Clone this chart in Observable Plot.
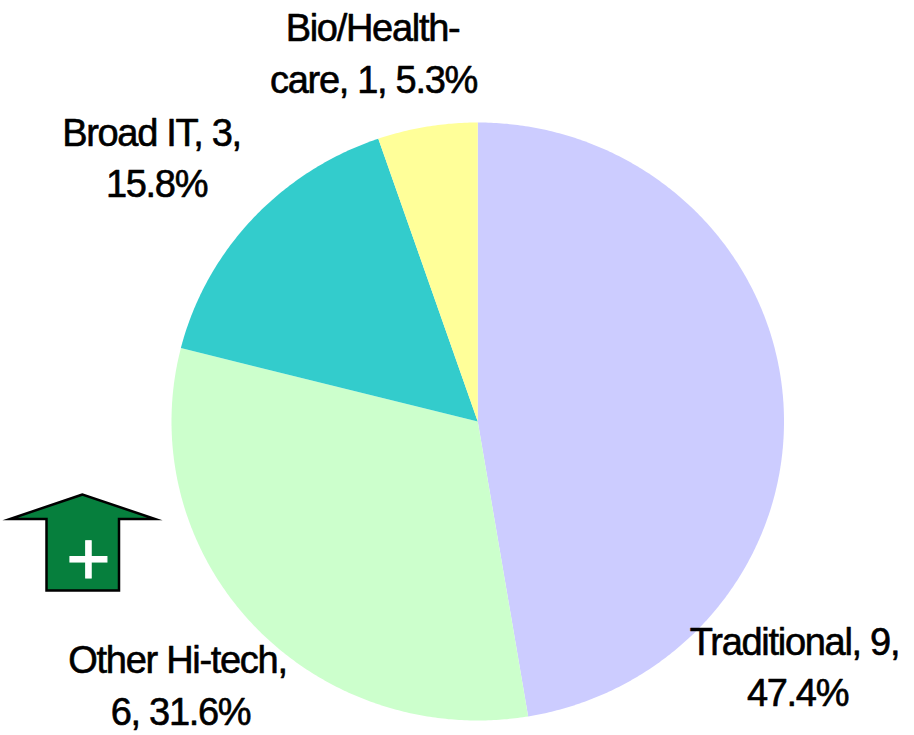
<!DOCTYPE html>
<html><head><meta charset="utf-8">
<style>html,body{margin:0;padding:0;background:#fff}</style>
<script src="https://cdn.jsdelivr.net/npm/d3@7"></script>
<script src="https://cdn.jsdelivr.net/npm/@observablehq/plot@0.6"></script>
</head><body><div id="chart"></div>
<script>
const categories = ["Traditional", "Other Hi-tech", "Broad IT", "Bio/Health-care"];
const counts = [9, 6, 3, 1];
const colors = ["#ccccff", "#ccffcc", "#33cccc", "#ffff99"];
const labelLines = [
  ["Traditional, 9,", "47.4%"],
  ["Other Hi-tech,", "6, 31.6%"],
  ["Broad IT, 3,", "15.8%"],
  ["Bio/Health-", "care, 1, 5.3%"]
];
// layout of each label line: centre x, baseline y in pixels
const labelPlaces = [
  [[794, 654], [797, 705]],
  [[177, 672], [180, 724]],
  [[151, 145], [156, 196]],
  [[372, 40], [373, 92]]
];

const arcs = d3.pie().sort(null).value(d => d)(counts);
const outline = arcs.flatMap((a, i) => {
  const n = Math.ceil((a.endAngle - a.startAngle) * 180 / Math.PI * 2);
  const pts = [{name: categories[i], x: 0, y: 0}];
  for (let k = 0; k <= n; k++) {
    const t = a.startAngle + (a.endAngle - a.startAngle) * k / n;
    pts.push({name: categories[i], x: Math.sin(t), y: Math.cos(t)});
  }
  return pts;
});

const lines = labelLines.flatMap((ls, i) => ls.map((text, j) => ({text, px: labelPlaces[i][j][0], py: labelPlaces[i][j][1]})));

function arrow() {
  const g = d3.create("svg:g");
  g.append("path")
    .attr("d", "M82.5,494.5 L10,519 L46.5,519 L46.5,590.5 L119,590.5 L119,519 L155,519 Z")
    .attr("fill", "#067f3d").attr("stroke", "#000").attr("stroke-width", 2.5)
    .attr("stroke-linejoin", "miter").attr("stroke-miterlimit", 20);
  g.append("text").attr("x", 88.5).attr("y", 584.5).attr("text-anchor", "middle")
    .attr("fill", "#fff").attr("stroke", "#fff").attr("stroke-width", 1)
    .style("font-size", "76px").style("letter-spacing", "0").text("+");
  return g.node();
}

const plot = Plot.plot({
  width: 914, height: 735,
  margin: 0,
  style: {fontFamily: "'Liberation Sans', Arial, sans-serif", fontSize: "38px", letterSpacing: "-1.3px", background: "#fff", color: "#000"},
  x: {domain: [-1, 1], range: [171, 783.5], axis: null},
  y: {domain: [-1, 1], range: [720, 122], axis: null},
  color: {domain: categories, range: colors},
  marks: [
    Plot.line(outline, {x: "x", y: "y", z: "name", fill: "name", stroke: "none"}),
    arrow,
    ...lines.map(l => Plot.text([l.text], {
      text: d => d, frameAnchor: "top-left", dx: l.px, dy: l.py,
      lineAnchor: "bottom", textAnchor: "middle", fill: "#000", stroke: "#000", strokeWidth: 0.6
    }))
  ]
});
document.getElementById("chart").append(plot);
</script></body></html>
